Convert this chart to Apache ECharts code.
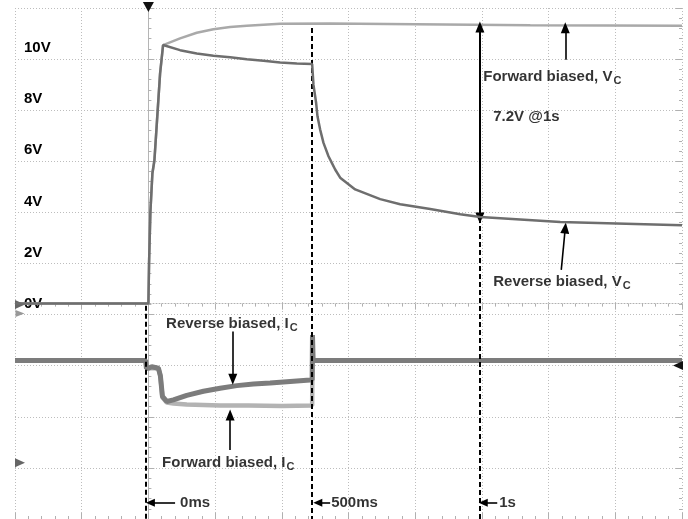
<!DOCTYPE html>
<html>
<head>
<meta charset="utf-8">
<script src="https://cdn.jsdelivr.net/npm/echarts@6/dist/echarts.min.js"></script>
<style>
html,body{margin:0;padding:0;background:#fff;}
#chart{width:688px;height:519px;}
</style>
</head>
<body>
<div id="chart"></div>
<script>
// ---- data (time in ms, Vc in volts, Ic in screen divisions relative to baseline) ----
const voltTicks = [0, 2, 4, 6, 8, 10];

const vcForwardT = [-400, 0, 2, 6, 12, 18, 26, 35, 44, 95, 145, 195, 245, 295, 395, 545, 800, 1145, 1600];
const vcForwardV = [0, 0, 1.6, 3.6, 5.1, 5.6, 7.2, 9.0, 10.12, 10.38, 10.6, 10.74, 10.83, 10.88, 10.95, 10.96, 10.93, 10.89, 10.88];

const vcReverseT = [-400, 0, 2, 6, 12, 18, 26, 35, 44, 95, 145, 195, 245, 295, 345, 395, 445, 491, 495, 503, 507, 515, 525, 540, 550, 560, 575, 620, 695, 755, 845, 935, 995, 1235, 1600];
const vcReverseV = [0, 0, 1.6, 3.6, 5.1, 5.6, 7.2, 9.0, 10.12, 9.92, 9.79, 9.70, 9.64, 9.56, 9.51, 9.44, 9.40, 9.38, 8.56, 7.85, 7.33, 6.81, 6.29, 5.77, 5.51, 5.25, 4.93, 4.47, 4.09, 3.89, 3.70, 3.50, 3.39, 3.19, 3.07];

const icForwardT = [-400, -8, -6, 0, 30, 36, 42, 55, 75, 115, 165, 215, 300, 400, 491, 492, 1600];
const icForwardV = [0, 0, -0.15, -0.15, -0.15, -0.3, -0.72, -0.82, -0.84, -0.86, -0.87, -0.88, -0.88, -0.89, -0.88, 0, 0];

const icReverseT = [-400, -8, -6, 0, 10, 30, 36, 42, 55, 75, 115, 165, 215, 265, 315, 365, 425, 485, 491, 492, 494, 1600];
const icReverseV = [0, 0, -0.15, -0.15, -0.12, -0.15, -0.3, -0.7, -0.8, -0.77, -0.68, -0.6, -0.54, -0.49, -0.46, -0.44, -0.41, -0.38, -0.38, 0.5, 0, 0];

const markerTimes = [-8, 490, 993];          // dashed lines: 0ms, 500ms, 1s
const markerLabels = ['0ms', '500ms', '1s'];

function pairs(t, v) { return t.map((x, i) => [x, v[i]]); }

const FONT = '"Liberation Sans", Arial, sans-serif';
const txt = '#000000';
const rich = {
  b: { fontFamily: FONT, fontSize: 15, fontWeight: 'bold', color: txt },
  s: { fontFamily: FONT, fontSize: 11, fontWeight: 'bold', color: txt, padding: [8, 0, 0, 1] }
};

function textItem(t, v, str) {
  return { value: [t, v], label: { formatter: str } };
}

const chart = echarts.init(document.getElementById('chart'), null, { renderer: 'canvas' });

const dotted = { type: [1, 2], color: '#bdbdbd', width: 1 };
const tickStyle = { color: '#b0b0b0' };

const option = {
  animation: false,
  backgroundColor: '#ffffff',
  grid: { left: 15, right: 6, top: 8, bottom: -2, containLabel: false },
  xAxis: [
    {
      type: 'value', min: -400, max: 1600, interval: 200, position: 'bottom',
      axisLine: { show: false },
      axisTick: { show: true, inside: true, length: 6, lineStyle: tickStyle },
      minorTick: { show: true, splitNumber: 5, length: 3, lineStyle: tickStyle },
      axisLabel: { show: false },
      splitLine: { show: true, lineStyle: dotted }
    },
    {
      type: 'value', min: -400, max: 1600, interval: 200, position: 'top',
      axisLine: { show: true, lineStyle: { type: [1, 2], color: '#b0b0b0' } },
      axisTick: { show: true, inside: true, length: 6, lineStyle: tickStyle },
      minorTick: { show: true, splitNumber: 5, length: 3, lineStyle: tickStyle },
      axisLabel: { show: false },
      splitLine: { show: false }
    }
  ],
  yAxis: [
    {
      type: 'value', min: 0, max: 10, interval: 1, position: 'left',
      axisLine: { show: true, lineStyle: { color: '#b5b5b5', width: 1 } },
      axisTick: { show: true, inside: true, length: 6, lineStyle: tickStyle },
      minorTick: { show: true, splitNumber: 5, length: 3, lineStyle: tickStyle },
      axisLabel: { show: false },
      splitLine: { show: true, lineStyle: dotted }
    },
    {
      type: 'value', min: -8.43, max: 11.57, position: 'left',
      axisLine: { show: false }, axisTick: { show: false }, splitLine: { show: false },
      axisLabel: {
        show: true, inside: true, margin: 9, customValues: voltTicks,
        formatter: v => v + 'V',
        fontFamily: FONT, fontSize: 15, fontWeight: 'bold', color: txt
      }
    },
    {
      type: 'value', min: -3.10, max: 6.90, show: false
    },
    {
      type: 'value', min: 0, max: 10, interval: 1, position: 'right',
      axisLine: { show: false },
      axisTick: { show: true, inside: true, length: 6, lineStyle: tickStyle },
      minorTick: { show: true, splitNumber: 5, length: 3, lineStyle: tickStyle },
      axisLabel: { show: false },
      splitLine: { show: false }
    }
  ],
  series: [
    {
      name: 'Forward biased, Ic', type: 'line', xAxisIndex: 0, yAxisIndex: 2,
      data: pairs(icForwardT, icForwardV), symbol: 'none',
      lineStyle: { color: '#b3b3b3', width: 4.5 }, z: 2
    },
    {
      name: 'Reverse biased, Ic', type: 'line', xAxisIndex: 0, yAxisIndex: 2,
      data: pairs(icReverseT, icReverseV), symbol: 'none',
      lineStyle: { color: '#7c7c7c', width: 5 }, z: 3
    },
    {
      name: 'Forward biased, Vc', type: 'line', xAxisIndex: 0, yAxisIndex: 1,
      data: pairs(vcForwardT, vcForwardV), symbol: 'none',
      lineStyle: { color: '#a9a9a9', width: 2.5 }, z: 4
    },
    {
      name: 'Reverse biased, Vc', type: 'line', xAxisIndex: 0, yAxisIndex: 1,
      data: pairs(vcReverseT, vcReverseV), symbol: 'none',
      lineStyle: { color: '#6e6e6e', width: 2.5 }, z: 5,
      markPoint: {
        silent: true,
        label: { show: false },
        data: [
          { coord: [0, 11.57], symbol: 'triangle', symbolSize: [11, 10], symbolRotate: 180, symbolOffset: [0, -1], itemStyle: { color: '#111' } },
          { coord: [-400, 0], symbol: 'triangle', symbolSize: [9, 10], symbolRotate: -90, symbolOffset: [5, 1], itemStyle: { color: '#666' } },
          { coord: [-400, -0.39], symbol: 'triangle', symbolSize: [7, 9], symbolRotate: -90, symbolOffset: [5, 0], itemStyle: { color: '#999' } },
          { coord: [-400, -6.23], symbol: 'triangle', symbolSize: [9, 10], symbolRotate: -90, symbolOffset: [5, 0], itemStyle: { color: '#666' } },
          { coord: [1600, -2.42], symbol: 'triangle', symbolSize: [9, 10], symbolRotate: 90, symbolOffset: [-4, 0], itemStyle: { color: '#111' } }
        ]
      }
    },
    {
      name: 'annotations', type: 'line', xAxisIndex: 0, yAxisIndex: 1, data: [], z: 6,
      markLine: {
        silent: true,
        animation: false,
        label: { show: false },
        lineStyle: { color: '#000', width: 2, type: 'solid' },
        symbolSize: [9, 11],
        data: [
          [{ coord: [markerTimes[0], -0.08], symbol: 'none', lineStyle: { type: [5, 3], width: 2 } }, { coord: [markerTimes[0], -8.43], symbol: 'none' }],
          [{ coord: [markerTimes[1], 10.79], symbol: 'none', lineStyle: { type: [5, 3], width: 2 } }, { coord: [markerTimes[1], -8.43], symbol: 'none' }],
          [{ coord: [markerTimes[2], 3.35], symbol: 'none', lineStyle: { type: [5, 3], width: 2 } }, { coord: [markerTimes[2], -8.43], symbol: 'none' }],
          [{ coord: [994, 10.83], symbol: 'triangle' }, { coord: [994, 3.35], symbol: 'triangle' }],
          [{ coord: [1250, 9.54], symbol: 'none', lineStyle: { width: 1.6 } }, { coord: [1250, 10.8], symbol: 'triangle' }],
          [{ coord: [1238, 1.32], symbol: 'none', lineStyle: { width: 1.6 } }, { coord: [1250, 2.96], symbol: 'triangle' }],
          [{ coord: [253, -1.09], symbol: 'none', lineStyle: { width: 1.6 } }, { coord: [253, -2.96], symbol: 'triangle' }],
          [{ coord: [245, -5.73], symbol: 'none', lineStyle: { width: 1.6 } }, { coord: [245, -4.36], symbol: 'triangle' }],
          [{ coord: [80, -7.79], symbol: 'none', lineStyle: { width: 1.6 } }, { coord: [6, -7.79], symbol: 'triangle', symbolSize: [8, 9] }],
          [{ coord: [545, -7.79], symbol: 'none', lineStyle: { width: 1.6 } }, { coord: [508, -7.79], symbol: 'triangle', symbolSize: [8, 9] }],
          [{ coord: [1046, -7.79], symbol: 'none', lineStyle: { width: 1.6 } }, { coord: [1004, -7.79], symbol: 'triangle', symbolSize: [8, 9] }]
        ]
      }
    },
    {
      name: 'labels', type: 'scatter', xAxisIndex: 0, yAxisIndex: 1, z: 7,
      symbolSize: 0, silent: true,
      label: { show: true, position: 'right', distance: 0, rich: rich, fontFamily: FONT },
      data: [
        textItem(1004, 8.88, '{b|Forward biased, V}{s|C}'),
        textItem(1034, 7.32, '{b|7.2V @1s}'),
        textItem(1034, 0.86, '{b|Reverse biased, V}{s|C}'),
        textItem(53, -0.78, '{b|Reverse biased, I}{s|C}'),
        textItem(41, -6.23, '{b|Forward biased, I}{s|C}'),
        textItem(95, -7.79, '{b|' + markerLabels[0] + '}'),
        textItem(548, -7.79, '{b|' + markerLabels[1] + '}'),
        textItem(1052, -7.79, '{b|' + markerLabels[2] + '}')
      ]
    }
  ]
};

chart.setOption(option);
</script>
</body>
</html>
